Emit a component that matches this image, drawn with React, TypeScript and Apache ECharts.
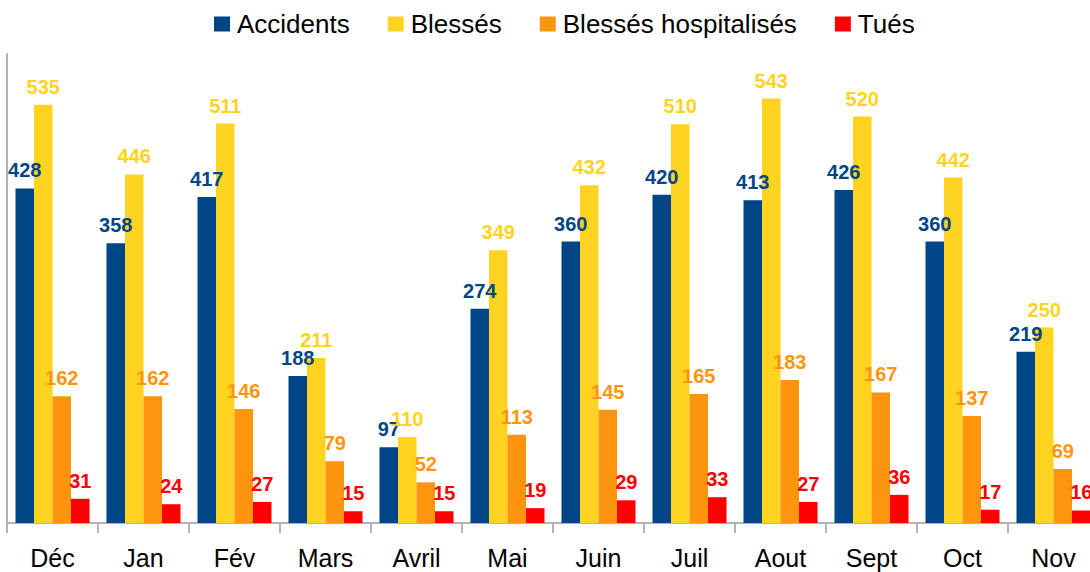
import React, { useEffect, useRef } from "react";
import * as echarts from "echarts";

const categories = ["Déc", "Jan", "Fév", "Mars", "Avril", "Mai", "Juin", "Juil", "Aout", "Sept", "Oct", "Nov"];
const accidents = [428, 358, 417, 188, 97, 274, 360, 420, 413, 426, 360, 219];
const blesses = [535, 446, 511, 211, 110, 349, 432, 510, 543, 520, 442, 250];
const hospitalises = [162, 162, 146, 79, 52, 113, 145, 165, 183, 167, 137, 69];
const tues = [31, 24, 27, 15, 15, 19, 29, 33, 27, 36, 17, 16];

const seriesNames = ["Accidents", "Blessés", "Blessés hospitalisés", "Tués"];
const seriesColors = ["#004586", "#ffd320", "#ff950e", "#ff0000"];

export default function App() {
  const ref = useRef<HTMLDivElement>(null);
  useEffect(() => {
    if (!ref.current) return;
    const chart = echarts.init(ref.current, undefined, { renderer: "svg" });
    const datasets = [accidents, blesses, hospitalises, tues];
    chart.setOption({
      animation: false,
      textStyle: { fontFamily: "Liberation Sans" },
      legend: {
        top: 11,
        left: 214,
        padding: 0,
        itemWidth: 16,
        itemHeight: 15,
        itemGap: 38,
        icon: "rect",
        textStyle: { fontSize: 26, color: "#000", fontFamily: "Liberation Sans", padding: [0, 0, 0, 2] },
        data: seriesNames,
      },
      grid: { left: 7, top: 54, width: 1092, height: 469, containLabel: false },
      xAxis: {
        type: "category",
        data: categories,
        axisLine: { lineStyle: { color: "#b3b3b3", width: 2 } },
        axisTick: { show: true, length: 10, lineStyle: { color: "#b3b3b3", width: 2 } },
        axisLabel: { fontSize: 25, color: "#000", margin: 22, fontFamily: "Liberation Sans" },
      },
      yAxis: {
        type: "value",
        min: 0,
        max: 600,
        axisLine: { show: true, lineStyle: { color: "#b3b3b3", width: 2 } },
        axisTick: { show: false },
        axisLabel: { show: false },
        splitLine: { show: false },
      },
      series: seriesNames.map((name, i) => ({
        name,
        type: "bar",
        data: datasets[i],
        barWidth: 18.5,
        barGap: "0%",
        itemStyle: { color: seriesColors[i] },
        label: {
          show: true,
          position: "top",
          distance: 8,
          color: seriesColors[i],
          fontWeight: "bold",
          fontSize: 20,
          fontFamily: "Liberation Sans",
        },
      })),
    });
    return () => chart.dispose();
  }, []);
  return (
    <div style={{ position: "absolute", left: 0, top: 0, width: 1090, height: 572, overflow: "hidden", background: "#fff" }}>
      <div ref={ref} style={{ width: 1100, height: 572 }} />
    </div>
  );
}
